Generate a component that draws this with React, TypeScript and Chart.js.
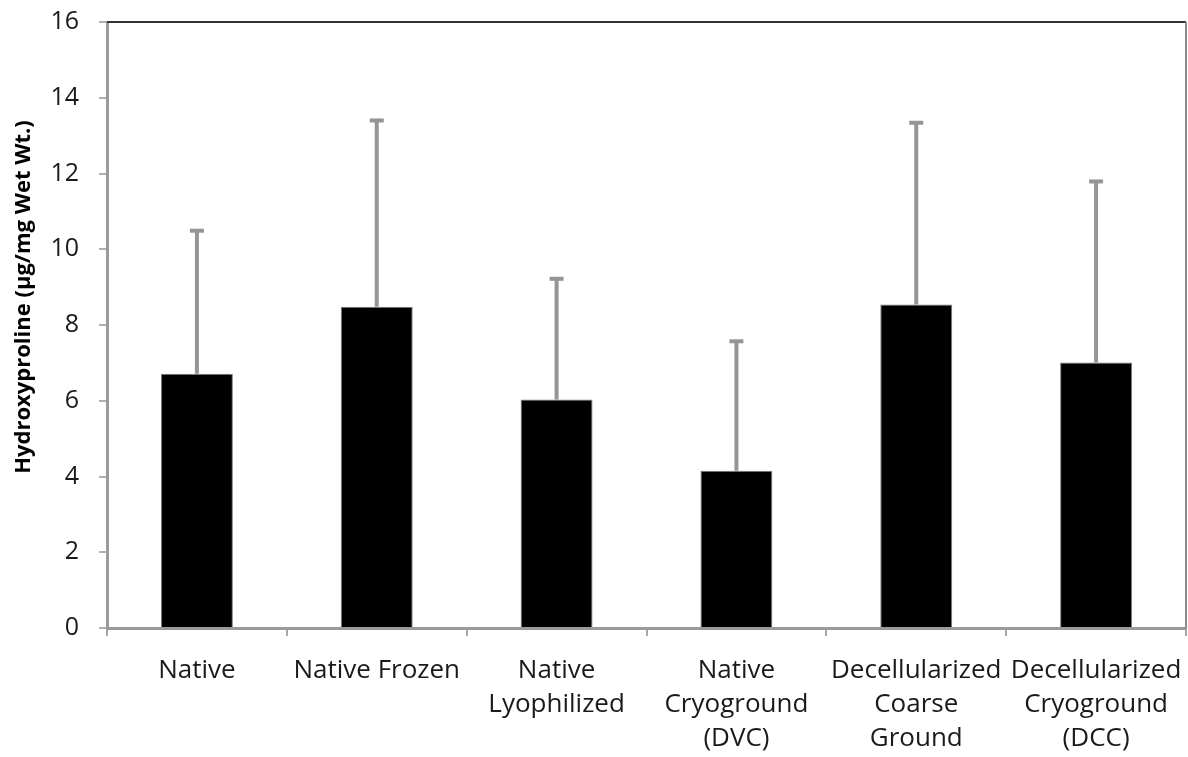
import React, { useEffect, useRef } from "react";
import { Chart, registerables } from "chart.js";

Chart.register(...registerables);

const categories: string[][] = [
  ["Native"],
  ["Native Frozen"],
  ["Native", "Lyophilized"],
  ["Native", "Cryoground", "(DVC)"],
  ["Decellularized", "Coarse", "Ground"],
  ["Decellularized", "Cryoground", "(DCC)"],
];
const meanValues: number[] = [6.71, 8.48, 6.03, 4.15, 8.54, 7.01];
const errorValues: number[] = [3.78, 4.92, 3.19, 3.42, 4.8, 4.78];
const yTickValues: number[] = [0, 2, 4, 6, 8, 10, 12, 14, 16];
const yTitle = "Hydroxyproline (\u00b5g/mg Wet Wt.)";

const FONT = "'Open Sans', Lato, sans-serif";

const errorBarPlugin = {
  id: "errorBars",
  afterDatasetsDraw(chart: any) {
    const ctx = chart.ctx;
    const meta = chart.getDatasetMeta(0);
    const yScale = chart.scales.y;
    ctx.save();
    ctx.strokeStyle = "#959595";
    ctx.lineWidth = 4;
    meta.data.forEach((bar: any, i: number) => {
      const x = bar.x;
      const yTop = yScale.getPixelForValue(meanValues[i] + errorValues[i]);
      const yBase = bar.y;
      ctx.beginPath();
      ctx.moveTo(x, yBase);
      ctx.lineTo(x, yTop);
      ctx.stroke();
      ctx.beginPath();
      ctx.moveTo(x - 7, yTop);
      ctx.lineTo(x + 7, yTop);
      ctx.stroke();
    });
    ctx.restore();
  },
};

const framePlugin = {
  id: "frame",
  afterDraw(chart: any) {
    const { ctx, chartArea } = chart;
    ctx.save();
    ctx.strokeStyle = "#333333";
    ctx.lineWidth = 2;
    ctx.beginPath();
    ctx.moveTo(chartArea.left, chartArea.top);
    ctx.lineTo(chartArea.right, chartArea.top);
    ctx.stroke();
    ctx.strokeStyle = "#8c8c8c";
    ctx.lineWidth = 2;
    ctx.beginPath();
    ctx.moveTo(chartArea.right, chartArea.top);
    ctx.lineTo(chartArea.right, chartArea.bottom);
    ctx.stroke();
    // y-axis title
    ctx.fillStyle = "#000000";
    ctx.font = `bold 22px ${FONT}`;
    ctx.textAlign = "center";
    ctx.textBaseline = "middle";
    ctx.translate(24, 297);
    ctx.rotate(-Math.PI / 2);
    ctx.fillText(yTitle, 0, 0);
    ctx.restore();
  },
};

export default function App() {
  const canvasRef = useRef<HTMLCanvasElement | null>(null);

  useEffect(() => {
    document.body.style.margin = "0";
    const canvas = canvasRef.current;
    if (!canvas) return;
    const chart = new Chart(canvas, {
      type: "bar",
      data: {
        labels: categories,
        datasets: [
          {
            data: meanValues,
            backgroundColor: "#000000",
            borderColor: "#7a7a7a",
            borderWidth: 1,
            barPercentage: 0.4,
            categoryPercentage: 1,
          },
        ],
      },
      options: {
        animation: false,
        responsive: false,
        maintainAspectRatio: false,
        layout: { padding: { top: 22, right: 2, left: 0, bottom: 0 } },
        plugins: {
          legend: { display: false },
          tooltip: { enabled: false },
        },
        scales: {
          x: {
            grid: {
              display: true,
              drawOnChartArea: false,
              offset: true,
              tickLength: 8,
              color: "#a6a6a6",
              lineWidth: 2,
            },
            border: { display: true, color: "#9a9a9a", width: 3 },
            ticks: {
              color: "#1a1a1a",
              font: { family: FONT, size: 26, lineHeight: 1.3 },
              padding: 18,
              maxRotation: 0,
              autoSkip: false,
            },
            afterFit(scale: any) {
              scale.height = 129;
              scale.paddingLeft = 0;
              scale.paddingRight = 0;
            },
          },
          y: {
            min: 0,
            max: 16,
            afterBuildTicks(scale: any) {
              scale.ticks = yTickValues.map((v) => ({ value: v }));
            },
            grid: {
              display: true,
              drawOnChartArea: false,
              tickLength: 8,
              color: "#b0b0b0",
              lineWidth: 2,
            },
            border: { display: true, color: "#9a9a9a", width: 3 },
            ticks: {
              color: "#1a1a1a",
              font: { family: FONT, size: 25 },
              padding: 20,
            },
            afterFit(scale: any) {
              scale.width = 107;
              scale.paddingTop = 0;
              scale.paddingBottom = 0;
            },
          },
        },
      },
      plugins: [errorBarPlugin, framePlugin],
    });
    return () => chart.destroy();
  }, []);

  return (
    <div style={{ width: 1188, height: 757 }}>
      <canvas ref={canvasRef} width={1188} height={757} style={{ display: "block" }} />
    </div>
  );
}
